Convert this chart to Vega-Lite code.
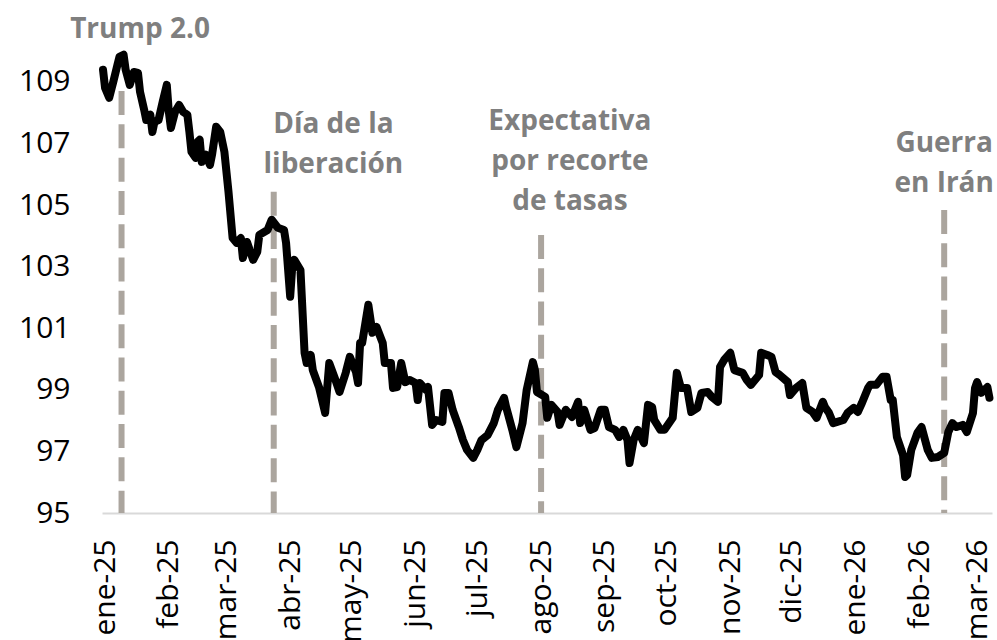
{
  "$schema": "https://vega.github.io/schema/vega-lite/v6.json",
  "width": 890,
  "height": 462,
  "autosize": {"type": "none"},
  "padding": {"left": 102, "top": 51, "right": 5, "bottom": 127},
  "background": "white",
  "config": {"view": {"stroke": null}, "font": "Open Sans"},
  "datasets": {
    "dxy": [
      {"date": "2024-12-31", "value": 109.39},
      {"date": "2025-01-01", "value": 108.80},
      {"date": "2025-01-03", "value": 108.48},
      {"date": "2025-01-05", "value": 109.00},
      {"date": "2025-01-07", "value": 109.55},
      {"date": "2025-01-08", "value": 109.81},
      {"date": "2025-01-10", "value": 109.88},
      {"date": "2025-01-11", "value": 109.39},
      {"date": "2025-01-13", "value": 108.90},
      {"date": "2025-01-15", "value": 109.32},
      {"date": "2025-01-17", "value": 109.29},
      {"date": "2025-01-18", "value": 108.67},
      {"date": "2025-01-20", "value": 108.09},
      {"date": "2025-01-21", "value": 107.76},
      {"date": "2025-01-23", "value": 107.93},
      {"date": "2025-01-24", "value": 107.37},
      {"date": "2025-01-25", "value": 107.70},
      {"date": "2025-01-27", "value": 107.76},
      {"date": "2025-01-29", "value": 108.35},
      {"date": "2025-01-31", "value": 108.90},
      {"date": "2025-02-01", "value": 108.02},
      {"date": "2025-02-02", "value": 107.50},
      {"date": "2025-02-04", "value": 108.02},
      {"date": "2025-02-06", "value": 108.25},
      {"date": "2025-02-08", "value": 108.02},
      {"date": "2025-02-10", "value": 107.93},
      {"date": "2025-02-11", "value": 107.37},
      {"date": "2025-02-12", "value": 106.73},
      {"date": "2025-02-14", "value": 106.53},
      {"date": "2025-02-15", "value": 107.05},
      {"date": "2025-02-16", "value": 107.12},
      {"date": "2025-02-17", "value": 106.40},
      {"date": "2025-02-19", "value": 106.63},
      {"date": "2025-02-21", "value": 106.30},
      {"date": "2025-02-22", "value": 106.63},
      {"date": "2025-02-24", "value": 107.54},
      {"date": "2025-02-26", "value": 107.37},
      {"date": "2025-02-28", "value": 106.73},
      {"date": "2025-03-02", "value": 105.43},
      {"date": "2025-03-04", "value": 103.93},
      {"date": "2025-03-06", "value": 103.77},
      {"date": "2025-03-08", "value": 103.93},
      {"date": "2025-03-09", "value": 103.28},
      {"date": "2025-03-11", "value": 103.80},
      {"date": "2025-03-14", "value": 103.22},
      {"date": "2025-03-16", "value": 103.48},
      {"date": "2025-03-17", "value": 104.03},
      {"date": "2025-03-21", "value": 104.19},
      {"date": "2025-03-23", "value": 104.52},
      {"date": "2025-03-26", "value": 104.26},
      {"date": "2025-03-29", "value": 104.19},
      {"date": "2025-03-30", "value": 103.77},
      {"date": "2025-04-01", "value": 102.02},
      {"date": "2025-04-02", "value": 102.99},
      {"date": "2025-04-03", "value": 103.22},
      {"date": "2025-04-06", "value": 102.89},
      {"date": "2025-04-08", "value": 100.20},
      {"date": "2025-04-09", "value": 99.87},
      {"date": "2025-04-11", "value": 100.13},
      {"date": "2025-04-12", "value": 99.64},
      {"date": "2025-04-15", "value": 99.09},
      {"date": "2025-04-18", "value": 98.25},
      {"date": "2025-04-20", "value": 99.87},
      {"date": "2025-04-23", "value": 99.32},
      {"date": "2025-04-25", "value": 98.93},
      {"date": "2025-04-28", "value": 99.55},
      {"date": "2025-04-30", "value": 100.07},
      {"date": "2025-05-03", "value": 99.58},
      {"date": "2025-05-04", "value": 99.22},
      {"date": "2025-05-05", "value": 100.52},
      {"date": "2025-05-06", "value": 100.52},
      {"date": "2025-05-09", "value": 101.76},
      {"date": "2025-05-11", "value": 100.85},
      {"date": "2025-05-13", "value": 101.04},
      {"date": "2025-05-16", "value": 100.52},
      {"date": "2025-05-17", "value": 99.87},
      {"date": "2025-05-20", "value": 99.87},
      {"date": "2025-05-21", "value": 99.06},
      {"date": "2025-05-23", "value": 99.09},
      {"date": "2025-05-25", "value": 99.87},
      {"date": "2025-05-27", "value": 99.25},
      {"date": "2025-05-29", "value": 99.32},
      {"date": "2025-06-01", "value": 99.22},
      {"date": "2025-06-02", "value": 98.67},
      {"date": "2025-06-03", "value": 99.22},
      {"date": "2025-06-06", "value": 99.00},
      {"date": "2025-06-07", "value": 99.09},
      {"date": "2025-06-09", "value": 97.86},
      {"date": "2025-06-11", "value": 98.02},
      {"date": "2025-06-14", "value": 97.96},
      {"date": "2025-06-15", "value": 98.90},
      {"date": "2025-06-17", "value": 98.90},
      {"date": "2025-06-19", "value": 98.35},
      {"date": "2025-06-22", "value": 97.79},
      {"date": "2025-06-24", "value": 97.37},
      {"date": "2025-06-26", "value": 97.05},
      {"date": "2025-06-29", "value": 96.79},
      {"date": "2025-07-01", "value": 97.05},
      {"date": "2025-07-03", "value": 97.37},
      {"date": "2025-07-06", "value": 97.53},
      {"date": "2025-07-09", "value": 97.92},
      {"date": "2025-07-11", "value": 98.35},
      {"date": "2025-07-14", "value": 98.74},
      {"date": "2025-07-15", "value": 98.44},
      {"date": "2025-07-18", "value": 97.70},
      {"date": "2025-07-20", "value": 97.14},
      {"date": "2025-07-23", "value": 97.92},
      {"date": "2025-07-25", "value": 99.00},
      {"date": "2025-07-28", "value": 99.90},
      {"date": "2025-07-29", "value": 99.64},
      {"date": "2025-07-30", "value": 98.93},
      {"date": "2025-08-03", "value": 98.77},
      {"date": "2025-08-04", "value": 98.09},
      {"date": "2025-08-06", "value": 98.51},
      {"date": "2025-08-09", "value": 98.28},
      {"date": "2025-08-10", "value": 97.86},
      {"date": "2025-08-13", "value": 98.35},
      {"date": "2025-08-16", "value": 98.12},
      {"date": "2025-08-19", "value": 98.61},
      {"date": "2025-08-20", "value": 97.92},
      {"date": "2025-08-22", "value": 98.35},
      {"date": "2025-08-25", "value": 97.70},
      {"date": "2025-08-27", "value": 97.76},
      {"date": "2025-08-30", "value": 98.35},
      {"date": "2025-09-01", "value": 98.35},
      {"date": "2025-09-03", "value": 97.79},
      {"date": "2025-09-06", "value": 97.70},
      {"date": "2025-09-08", "value": 97.47},
      {"date": "2025-09-10", "value": 97.70},
      {"date": "2025-09-12", "value": 97.37},
      {"date": "2025-09-13", "value": 96.62},
      {"date": "2025-09-15", "value": 97.37},
      {"date": "2025-09-17", "value": 97.70},
      {"date": "2025-09-20", "value": 97.27},
      {"date": "2025-09-22", "value": 98.51},
      {"date": "2025-09-24", "value": 98.44},
      {"date": "2025-09-25", "value": 98.02},
      {"date": "2025-09-28", "value": 97.70},
      {"date": "2025-09-30", "value": 97.70},
      {"date": "2025-10-04", "value": 98.09},
      {"date": "2025-10-06", "value": 99.55},
      {"date": "2025-10-08", "value": 99.06},
      {"date": "2025-10-11", "value": 99.06},
      {"date": "2025-10-13", "value": 98.28},
      {"date": "2025-10-16", "value": 98.41},
      {"date": "2025-10-18", "value": 98.90},
      {"date": "2025-10-21", "value": 98.93},
      {"date": "2025-10-23", "value": 98.77},
      {"date": "2025-10-26", "value": 98.61},
      {"date": "2025-10-27", "value": 99.74},
      {"date": "2025-10-29", "value": 99.97},
      {"date": "2025-11-01", "value": 100.20},
      {"date": "2025-11-03", "value": 99.64},
      {"date": "2025-11-07", "value": 99.55},
      {"date": "2025-11-09", "value": 99.32},
      {"date": "2025-11-11", "value": 99.16},
      {"date": "2025-11-13", "value": 99.32},
      {"date": "2025-11-15", "value": 99.48},
      {"date": "2025-11-16", "value": 100.20},
      {"date": "2025-11-19", "value": 100.13},
      {"date": "2025-11-21", "value": 100.07},
      {"date": "2025-11-23", "value": 99.58},
      {"date": "2025-11-25", "value": 99.48},
      {"date": "2025-11-29", "value": 99.25},
      {"date": "2025-11-30", "value": 98.83},
      {"date": "2025-12-03", "value": 99.06},
      {"date": "2025-12-06", "value": 99.22},
      {"date": "2025-12-08", "value": 98.41},
      {"date": "2025-12-11", "value": 98.28},
      {"date": "2025-12-13", "value": 98.09},
      {"date": "2025-12-16", "value": 98.61},
      {"date": "2025-12-17", "value": 98.44},
      {"date": "2025-12-19", "value": 98.25},
      {"date": "2025-12-21", "value": 97.92},
      {"date": "2025-12-23", "value": 97.96},
      {"date": "2025-12-26", "value": 98.02},
      {"date": "2025-12-28", "value": 98.25},
      {"date": "2025-12-31", "value": 98.41},
      {"date": "2026-01-02", "value": 98.28},
      {"date": "2026-01-04", "value": 98.57},
      {"date": "2026-01-07", "value": 99.06},
      {"date": "2026-01-08", "value": 99.16},
      {"date": "2026-01-11", "value": 99.16},
      {"date": "2026-01-14", "value": 99.42},
      {"date": "2026-01-16", "value": 99.42},
      {"date": "2026-01-18", "value": 98.67},
      {"date": "2026-01-19", "value": 98.67},
      {"date": "2026-01-21", "value": 97.47},
      {"date": "2026-01-24", "value": 96.88},
      {"date": "2026-01-25", "value": 96.17},
      {"date": "2026-01-26", "value": 96.23},
      {"date": "2026-01-28", "value": 97.05},
      {"date": "2026-01-31", "value": 97.60},
      {"date": "2026-02-02", "value": 97.79},
      {"date": "2026-02-05", "value": 97.05},
      {"date": "2026-02-07", "value": 96.79},
      {"date": "2026-02-10", "value": 96.82},
      {"date": "2026-02-13", "value": 96.95},
      {"date": "2026-02-15", "value": 97.63},
      {"date": "2026-02-17", "value": 97.92},
      {"date": "2026-02-19", "value": 97.79},
      {"date": "2026-02-22", "value": 97.86},
      {"date": "2026-02-24", "value": 97.63},
      {"date": "2026-02-27", "value": 98.25},
      {"date": "2026-02-28", "value": 99.06},
      {"date": "2026-03-01", "value": 99.25},
      {"date": "2026-03-03", "value": 98.90},
      {"date": "2026-03-06", "value": 99.09},
      {"date": "2026-03-07", "value": 98.74}
    ],
    "events": [
      {"event": "Trump 2.0", "date": "2025-01-09", "value": 108.7},
      {"event": "Día de la liberación", "date": "2025-03-24", "value": 105.43},
      {"event": "Expectativa por recorte de tasas", "date": "2025-08-01", "value": 104.03},
      {"event": "Guerra en Irán", "date": "2026-02-13", "value": 104.84}
    ],
    "labels": [
      {"label": "Trump 2.0", "date": "2025-01-18", "value": 110.43},
      {"label": "Día de la\nliberación", "date": "2025-04-22", "value": 107.34},
      {"label": "Expectativa\npor recorte\nde tasas", "date": "2025-08-15", "value": 107.44},
      {"label": "Guerra\nen Irán", "date": "2026-02-13", "value": 106.72}
    ]
  },
  "encoding": {
    "x": {
      "field": "date",
      "type": "temporal",
      "scale": {
        "type": "utc",
        "domain": [
          {"year": 2024, "month": 12, "date": 30, "hours": 12, "utc": true},
          {"year": 2026, "month": 3, "date": 8, "hours": 6, "utc": true}
        ]
      },
      "axis": {
        "title": null,
        "grid": false,
        "ticks": false,
        "tickSize": 0,
        "values": [
          {"year": 2025, "month": 1, "date": 1, "utc": true},
          {"year": 2025, "month": 2, "date": 1, "utc": true},
          {"year": 2025, "month": 3, "date": 1, "utc": true},
          {"year": 2025, "month": 4, "date": 1, "utc": true},
          {"year": 2025, "month": 5, "date": 1, "utc": true},
          {"year": 2025, "month": 6, "date": 1, "utc": true},
          {"year": 2025, "month": 7, "date": 1, "utc": true},
          {"year": 2025, "month": 8, "date": 1, "utc": true},
          {"year": 2025, "month": 9, "date": 1, "utc": true},
          {"year": 2025, "month": 10, "date": 1, "utc": true},
          {"year": 2025, "month": 11, "date": 1, "utc": true},
          {"year": 2025, "month": 12, "date": 1, "utc": true},
          {"year": 2026, "month": 1, "date": 1, "utc": true},
          {"year": 2026, "month": 2, "date": 1, "utc": true},
          {"year": 2026, "month": 3, "date": 1, "utc": true}
        ],
        "labelExpr": "['ene','feb','mar','abr','may','jun','jul','ago','sep','oct','nov','dic'][utcmonth(datum.value)] + '-' + utcFormat(datum.value, '%y')",
        "labelAngle": 270,
        "labelAlign": "right",
        "labelBaseline": "middle",
        "labelFont": "Open Sans",
        "labelFontSize": 30,
        "labelColor": "#000000",
        "labelPadding": 26,
        "labelOverlap": false,
        "labelFlush": false,
        "domainColor": "#d9d9d9",
        "domainWidth": 2
      }
    },
    "y": {
      "field": "value",
      "type": "quantitative",
      "scale": {"domain": [95, 110], "nice": false, "zero": false},
      "axis": {
        "title": null,
        "grid": false,
        "ticks": false,
        "tickSize": 0,
        "domain": false,
        "values": [95, 97, 99, 101, 103, 105, 107, 109],
        "labelFont": "Open Sans",
        "labelFontSize": 30,
        "labelColor": "#000000",
        "labelPadding": 32
      }
    }
  },
  "layer": [
    {
      "data": {"name": "events"},
      "mark": {"type": "rule", "color": "#aba59e", "strokeWidth": 6, "strokeDash": [24, 9.3]},
      "encoding": {"y2": {"datum": 95}}
    },
    {
      "data": {"name": "dxy"},
      "mark": {"type": "line", "color": "#000000", "strokeWidth": 8, "strokeJoin": "round", "strokeCap": "round"},
      "encoding": {}
    },
    {
      "data": {"name": "labels"},
      "mark": {
        "type": "text",
        "font": "Open Sans",
        "fontWeight": "bold",
        "fontSize": 28,
        "color": "#7f7f7f",
        "align": "center",
        "baseline": "alphabetic",
        "lineBreak": "\n",
        "lineHeight": 40
      },
      "encoding": {"text": {"field": "label", "type": "nominal"}}
    }
  ]
}
